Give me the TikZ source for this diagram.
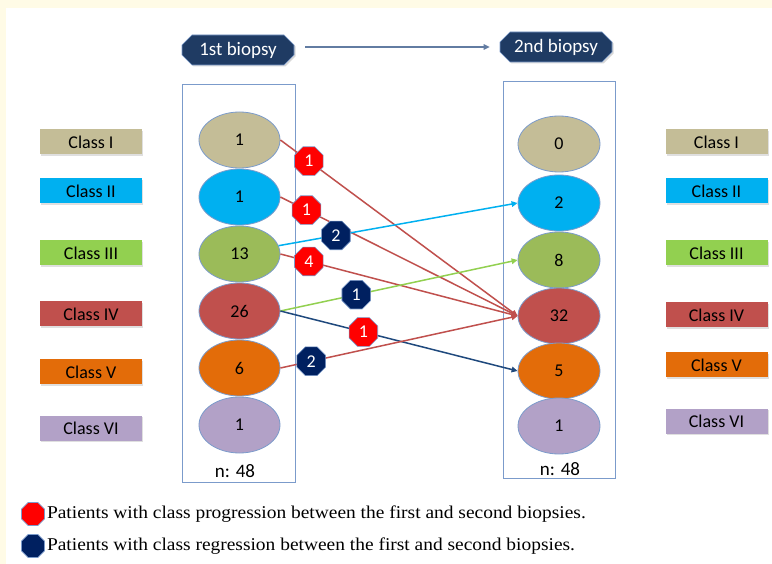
\documentclass[tikz,border=0pt]{standalone}
\usepackage{fontspec}
\setmainfont{Carlito}
\newfontfamily\legendfont[FakeStretch=1.08]{Liberation Serif}
\usetikzlibrary{
  shapes.geometric,
  shapes.misc,
  arrows.meta,
  positioning,
  shadows
}
\definecolor{bgcream}{HTML}{FFFBE6}
\definecolor{clsone}{HTML}{C4BD97}
\definecolor{clstwo}{HTML}{00B0F0}
\definecolor{clsthree}{HTML}{92D050}
\definecolor{clsthreeb}{HTML}{9BBB59}
\definecolor{clsfour}{HTML}{C0504D}
\definecolor{clsfive}{HTML}{E36C09}
\definecolor{clssix}{HTML}{B2A1C7}
\definecolor{headblue}{HTML}{1F3B63}
\definecolor{rimblue}{HTML}{7B9BCB}
\definecolor{regblue}{HTML}{002060}
\definecolor{lineblue}{HTML}{1F497D}

\begin{document}
\begin{tikzpicture}[x=1pt, y=-1pt,
  classbox/.style={rectangle, minimum width=102pt, minimum height=25pt, inner sep=0pt,
    font=\fontsize{18}{20}\selectfont,
    drop shadow={opacity=0.25, shadow xshift=1pt, shadow yshift=-1.5pt}},
  count/.style={ellipse, draw=rimblue, line width=0.8pt, minimum width=81pt, minimum height=56pt,
    inner sep=0pt, font=\fontsize{18}{20}\selectfont},
  header/.style={chamfered rectangle, chamfered rectangle xsep=5pt, chamfered rectangle ysep=5pt,
    fill=headblue, draw=rimblue, line width=0.6pt, text=white, minimum width=112pt, minimum height=30pt,
    inner sep=0pt, font=\fontsize{19}{21}\selectfont,
    drop shadow={opacity=0.3, shadow xshift=1.5pt, shadow yshift=-1.5pt}},
  colbox/.style={draw=rimblue, line width=1pt},
  badge/.style={regular polygon, regular polygon sides=8, minimum size=31pt, inner sep=0pt,
    draw=rimblue, line width=0.6pt, text=white, font=\fontsize{18}{20}\selectfont},
  link/.style={line width=1.5pt, -{Triangle[length=6pt, width=5.5pt]}},
  legendmark/.style={regular polygon, regular polygon sides=8, minimum size=25pt, inner sep=0pt,
    draw=rimblue, line width=0.6pt},
  legendtext/.style={font=\legendfont\fontsize{18}{20}\selectfont, inner sep=0pt, anchor=west}
]
  % background
  \fill[bgcream] (0,0) rectangle (772,564);
  \fill[white] (6,8) rectangle (772,564);
  \useasboundingbox (0,0) rectangle (772,564);

  % headers
  \node[header] (h1) at (238,50) {1st biopsy};
  \node[header] (h2) at (556,47) {2nd biopsy};
  \draw[rimblue!80!black, line width=1.5pt, -{Triangle[length=6pt, width=5.5pt]},
    shorten <=11pt, shorten >=10pt] (h1.east |- h2.west) -- (h2.west);

  % columns
  \draw[colbox] (182,85) rectangle (295,482);
  \draw[colbox] (503,82) rectangle (615,478);

  % class labels
  \foreach \n/\y/\c/\t in {1/142/clsone/I, 2/191/clstwo/II, 3/253/clsthree/III,
                           4/314/clsfour/IV, 5/372/clsfive/V, 6/428/clssix/VI}
    \node[classbox, fill=\c] (cl\n) at (91,\y) {Class \t};
  \foreach \n/\y/\c/\t in {1/142/clsone/I, 2/191/clstwo/II, 3/253/clsthree/III,
                           4/315/clsfour/IV, 5/365/clsfive/V, 6/421/clssix/VI}
    \node[classbox, fill=\c] (cr\n) at (716.5,\y) {Class \t};

  % counts
  \foreach \n/\y/\c/\v in {1/140/clsone/1, 2/197/clstwo/1, 3/254/clsthreeb/13,
                           4/311/clsfour/26, 5/368/clsfive/6, 6/425/clssix/1}
    \node[count, fill=\c] (l\n) at (239.5,\y) {\v};
  \foreach \n/\y/\c/\v in {1/144/clsone/0, 2/203/clstwo/2, 3/260/clsthreeb/8,
                           4/316/clsfour/32, 5/371/clsfive/5, 6/426/clssix/1}
    \node[count, fill=\c, minimum width=82pt] (r\n) at (559,\y) {\v};

  \node[font=\fontsize{19}{21}\selectfont] (n1) at (235,471) {n: 48};
  \node[font=\fontsize{19}{21}\selectfont] (n2) at (560,469) {n: 48};

  % transitions
  \draw[link, clsfour] (l1.east) -- coordinate[pos=.12] (p1) (r4.west);
  \draw[link, clsfour] (l2.east) -- coordinate[pos=.11] (p2) (r4.west);
  \draw[link, clsfour] (l3.east) -- coordinate[pos=.12] (p3) (r4.west);
  \draw[link, clstwo] (l3.12) -- coordinate[pos=.24] (p4) (r2.west);
  \draw[link, clsthree] (l4.east) -- coordinate[pos=.32] (p5) (r3.west);
  \draw[link, lineblue] (l4.east) -- coordinate[pos=.35] (p6) (r5.west);
  \draw[link, clsfour] (l5.east) -- coordinate[pos=.13] (p7) (r4.west);

  \node[badge, fill=red] (b1) at (p1) {1};
  \node[badge, fill=red] (b2) at (p2) {1};
  \node[badge, fill=red] (b3) at (p3) {4};
  \node[badge, fill=regblue] (b4) at (p4) {2};
  \node[badge, fill=regblue] (b5) at (p5) {1};
  \node[badge, fill=red] (b6) at (p6) {1};
  \node[badge, fill=regblue] (b7) at (p7) {2};

  % legend
  \node[legendmark, fill=red] (m1) at (33,514) {};
  \node[legendtext, right=2pt of m1] (t1) {Patients with class progression between the first and second biopsies.};
  \node[legendmark, fill=regblue] (m2) at (33,546) {};
  \node[legendtext, right=2pt of m2] (t2) {Patients with class regression between the first and second biopsies.};
\end{tikzpicture}
\end{document}
